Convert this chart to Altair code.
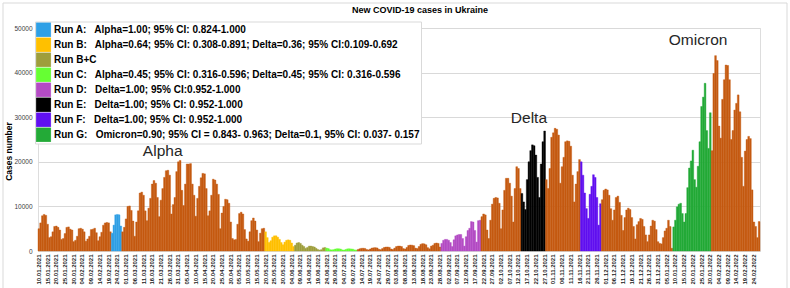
import altair as alt
import pandas as pd

# ---------------- data ----------------
start_date = "2021-01-10"

cases = [
    5000, 6300, 7900, 8200, 8000, 6000, 3000,
    3200, 4300, 5500, 5600, 5300, 4700, 2600,
    2800, 3900, 5300, 5400, 4900, 4700, 2100,
    2400, 3300, 5000, 5100, 4900, 4300, 2200,
    2700, 3300, 4800, 4900, 5100, 4100, 2300,
    3200, 4200, 5800, 6300, 6400, 6300, 4300,
    4000, 5800, 8100, 8200, 8100, 5600, 4300,
    5300, 7200, 10000, 10100, 9100, 6700, 3300,
    6500, 9000, 13000, 13200, 12500, 9000, 6800,
    9600, 11800, 15000, 15800, 15200, 12000, 7700,
    11400, 14000, 16500, 18000, 18100, 17000, 8300,
    10400, 12000, 17800, 20000, 20300, 13600, 10200,
    15000, 19500, 19500, 19600, 15000, 12500, 7800,
    11800, 14500, 16400, 17400, 17300, 14000, 7900,
    9000, 12500, 16100, 15900, 15000, 12700, 5000,
    8500, 10000, 11600, 11500, 10700, 6500, 2800,
    2500, 2600, 6000, 8400, 8700, 8300, 4800,
    2700, 2200, 4300, 6800, 7400, 6700, 4700,
    2100, 4000, 5000, 5100, 4300, 3000, 1900,
    2300, 3100, 3400, 3400, 3100, 2600, 1900,
    1400, 2000, 2400, 2500, 2400, 1800, 1000,
    1300, 1800, 1900, 1700, 1300, 1000, 600,
    800, 1100, 1100, 1000, 900, 600, 350,
    200, 300, 700, 800, 650, 550, 300,
    250, 300, 450, 520, 500, 450, 250,
    200, 350, 480, 500, 470, 420, 250,
    200, 350, 500, 600, 620, 580, 330,
    250, 450, 650, 720, 750, 680, 380,
    300, 550, 800, 880, 900, 820, 450,
    350, 650, 1000, 1100, 1100, 1000, 550,
    450, 800, 1250, 1350, 1300, 1200, 650,
    550, 1000, 1500, 1650, 1600, 1400, 750,
    500, 1100, 1300, 1700, 1800, 1700, 900,
    1700, 2400, 2600, 2600, 2400, 1900, 1000,
    2500, 3400, 3600, 3700, 3700, 2800, 1100,
    3200, 4600, 5100, 6600, 6500, 4600, 2000,
    6800, 6900, 7700, 8300, 8100, 4700, 2800,
    6900, 10500, 11800, 12000, 11900, 10700, 5000,
    9200, 13600, 16300, 16300, 15200, 12300, 6500,
    14000, 18900, 18500, 14000, 12900, 11000, 9300,
    16000, 20000, 22500, 23800, 23600, 21500, 16500,
    12000, 19500, 24500, 26900, 16000, 14000, 18500,
    25500, 26500, 27500, 27300, 26000, 15200, 18900,
    21000, 24500, 24700, 24600, 23500, 17000, 11000,
    15000, 17800, 20500, 20000, 17000, 13000, 9500,
    7300, 12700, 14500, 17100, 16500, 12000, 5800,
    10600, 11500, 13600, 13900, 13700, 12500, 9500,
    6900, 9200, 12000, 12300, 10900, 8000, 4600,
    7500, 9200, 9600, 9300, 7500, 5500, 2700,
    5900, 6600, 7300, 7100, 5500, 3600, 2100,
    3600, 5600, 6900, 6700, 4800, 2100, 1700,
    1600, 3000, 4500, 5100, 6900, 5500, 600,
    5400, 6900, 9900, 10500, 10700, 8400, 6500,
    8400, 14200, 18600, 20200, 22600, 16000, 14300,
    19000, 24500, 32400, 34500, 37600, 27000, 23000,
    31000, 22500, 39800, 43800, 42700, 28000, 25300,
    34000, 38400, 41700, 41600, 38400, 25000, 27000,
    31600, 33100, 35000, 31200, 21000, 14500, 22400,
    25000, 25700, 25200, 13700, 6500, 5500, 3000,
    6600,
]

NB = "\u00a0"
run_labels = [
    "Run A:" + NB * 2 + " Alpha=1.00; 95% CI: 0.824-1.000",
    "Run B:" + NB * 2 + " Alpha=0.64; 95% CI: 0.308-0.891; Delta=0.36; 95% CI:0.109-0.692",
    "Run B+C",
    "Run C:" + NB * 2 + " Alpha=0.45; 95% CI: 0.316-0.596; Delta=0.45; 95% CI: 0.316-0.596",
    "Run D:" + NB * 2 + " Delta=1.00; 95% CI:0.952-1.000",
    "Run E:" + NB * 2 + " Delta=1.00; 95% CI: 0.952-1.000",
    "Run F:" + NB * 2 + " Delta=1.00; 95% CI: 0.952-1.000",
    "Run G:" + NB * 2 + " Omicron=0.90; 95% CI = 0.843- 0.963; Delta=0.1, 95% CI: 0.037- 0.157" + NB * 13,
]
run_first = ["21.02.2021", "20.05.2021", "06.06.2021", "24.06.2021",
             "29.08.2021", "14.10.2021", "17.11.2021", "09.01.2022"]
run_last = ["26.02.2021", "05.06.2021", "23.06.2021", "11.07.2021",
            "20.09.2021", "27.10.2021", "28.11.2021", "30.01.2022"]
run_colors = ["#2FA0E6", "#FFC000", "#9E9E3C", "#66FF33",
              "#B44CC4", "#000000", "#6010F0", "#23AA37"]
other_label = "other"
other_color = "#C55A11"

wave_names = ["Alpha", "Delta", "Omicron"]
wave_dates = ["22.03.2021", "18.10.2021", "23.01.2022"]
wave_levels = [21300, 28600, 46200]

y_ticks = [0, 5000, 10000, 15000, 20000, 25000, 30000, 35000, 40000, 45000, 50000]

title_text = "New COVID-19 cases in Ukraine"
y_title = "Cases number"

# ---------------- tables ----------------
dates = pd.date_range(start_date, periods=len(cases), freq="D")
labels = list(dates.strftime("%d.%m.%Y"))
run = [other_label] * len(cases)
for name, f, l in zip(run_labels, run_first, run_last):
    fd = pd.to_datetime(f, format="%d.%m.%Y")
    ld = pd.to_datetime(l, format="%d.%m.%Y")
    for i, d in enumerate(dates):
        if fd <= d <= ld:
            run[i] = name
df = pd.DataFrame({"label": labels, "cases": cases, "run": run})
ann = pd.DataFrame({"label": wave_dates, "level": wave_levels, "text": wave_names})
frame_df = pd.DataFrame({"k": [0]})

x_ticks = labels[::5]
FONT = "Liberation Sans"

color_scale = alt.Scale(domain=run_labels + [other_label], range=run_colors + [other_color])
x_scale = alt.Scale(domain=labels, paddingInner=0, paddingOuter=0)
y_scale = alt.Scale(domain=[0, 50000], nice=False)

bars = alt.Chart(df).mark_bar(strokeWidth=0.4).encode(
    x=alt.X("label:O", scale=x_scale, sort=None, title=None,
            axis=alt.Axis(values=x_ticks, labelAngle=270, labelFontSize=6,
                          labelFontWeight="bold",
                          labelFont=FONT, labelColor="#1a1a1a", labelPadding=3,
                          ticks=False, domainColor="#d9d9d9", labelOverlap=False,
                          labelBound=False)),
    y=alt.Y("cases:Q", scale=y_scale,
            axis=alt.Axis(values=y_ticks, format="d", labelFontSize=6.5, labelFont=FONT,
                          labelColor="#404040", labelPadding=6, ticks=False, domain=False,
                          gridColor="#d9d9d9", gridWidth=1,
                          title=y_title, titleFont=FONT, titleFontSize=8.5,
                          titleFontWeight="bold", titleColor="#000000",
                          titleAngle=270, titleAlign="center", titleBaseline="alphabetic",
                          titleX=-27, titleY=123)),
    color=alt.Color("run:N", scale=color_scale,
                    legend=alt.Legend(
                        values=run_labels, title=None, orient="none",
                        legendX=-3, legendY=-6.5, padding=1,
                        symbolType="square", symbolSize=200,
                        symbolStrokeColor="#000000", symbolStrokeWidth=0.8,
                        symbolOpacity=1, clipHeight=14.4,
                        labelFont=FONT, labelFontSize=10, labelFontWeight="bold",
                        labelColor="#000000", labelLimit=600, labelOffset=3,
                        rowPadding=0, fillColor="#ffffff", strokeColor="#d9d9d9")),
    stroke=alt.Stroke("run:N", scale=color_scale, legend=None),
)

texts = alt.Chart(ann).mark_text(font=FONT, fontSize=15.5, color="#262626",
                                 align="center", baseline="alphabetic").encode(
    x=alt.X("label:O", scale=x_scale, sort=None),
    y=alt.Y("level:Q", scale=y_scale),
    text="text:N",
)

frame = alt.Chart(frame_df).mark_rect(fillOpacity=0, stroke="#d9d9d9", strokeWidth=1).encode(
    x=alt.value(-35), x2=alt.value(749), y=alt.value(-25), y2=alt.value(262)
)

chart = alt.layer(frame, bars, texts).properties(
    width=722, height=223,
    title=alt.TitleParams(title_text, font=FONT, fontSize=9, fontWeight="bold",
                          color="#000000", dx=21, offset=-19.5, baseline="alphabetic",
                          frame="group"),
    autosize=alt.AutoSizeParams(type="none"),
    padding={"left": 38, "top": 28, "right": 30, "bottom": 37},
).configure_view(stroke="transparent").configure(background="#ffffff")

chart.save("out.html", embed_options={"renderer": "svg", "actions": False})
